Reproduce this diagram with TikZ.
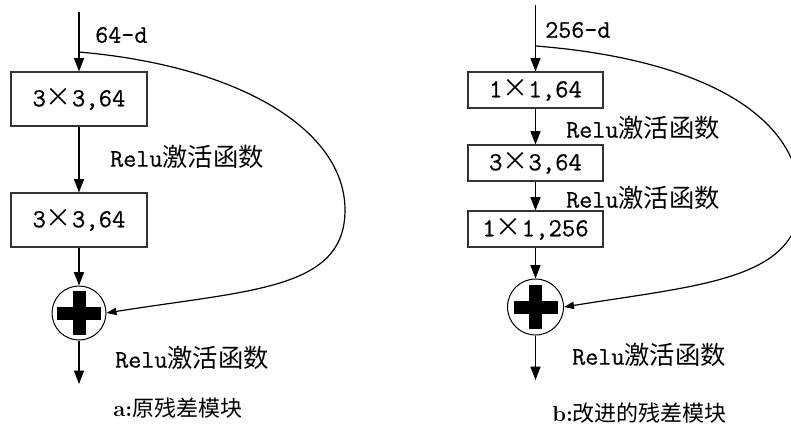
\documentclass[tikz,border=0pt]{standalone}
\usepackage{fontspec}
\newfontfamily\cjk{Noto Sans CJK SC}
\newfontfamily\lat{Latin Modern Mono}[FakeBold=0.6]
\usetikzlibrary{arrows.meta}
\newcommand{\relu}{{\lat Relu}{\cjk 激活函数}}
\newcommand{\kx}[2]{{\lat #1}{\cjk ×}{\lat #2}}
\begin{document}
\begin{tikzpicture}[x=0.75pt,y=-0.75pt,
  lbl/.style={anchor=west, inner sep=0pt, font=\fontsize{19}{19}\selectfont},
  captext/.style={anchor=west, inner sep=0pt, font=\fontsize{16.5}{17}\selectfont},
  blk/.style={draw=black!80, line width=0.8pt, inner sep=0pt,
    font=\fontsize{19.5}{19.5}\selectfont},
  bigblk/.style={blk, minimum width=102pt, minimum height=40.5pt},
  smallblk/.style={blk, minimum width=101.25pt, minimum height=27pt},
  sumc/.style={circle, draw, line width=0.75pt, inner sep=0pt},
  flow/.style={line width=1pt, -{Triangle[length=10pt,width=7.5pt]}},
  skip/.style={line width=0.9pt, -{Triangle[length=7.5pt,width=5.5pt]}}]
\useasboundingbox (0,0) rectangle (791,428);

% ---- a: plain residual block ----
\coordinate (ain) at (79,12);
\coordinate (asp) at (79,52);
\node[bigblk] (a1) at (79,99) {\kx{3}{3,64}};
\node[bigblk] (a2) at (79,220) {\kx{3}{3,64}};
\node[sumc, minimum size=40.5pt] (as) at (79,313) {};
\coordinate (aout) at (79,384);
\fill ([shift={(-22,-6.5)}]as.center) rectangle ([shift={(22,6.5)}]as.center);
\fill ([shift={(-6.5,-22)}]as.center) rectangle ([shift={(6.5,22)}]as.center);

\draw[flow] (ain) -- (a1);
\draw[flow] (a1) -- (a2);
\draw[flow] (a2) -- (as);
\draw[flow] (as) -- (aout);
\draw[skip] (asp) .. controls (240,66) and (345,130) .. (345,210)
  .. controls (345,290) and (250,290) .. (as.east);

\node[lbl] (ad) at (95,35) {\lat 64-d};
\node[lbl] (ar1) at (110,157) {\relu};
\node[lbl] (ar2) at (115,358) {\relu};
\node[captext] (acap) at (113,408) {\textbf{a:}{\cjk 原残差模块}};

% ---- b: bottleneck residual block ----
\coordinate (bin) at (535.5,5);
\coordinate (bsp) at (535.5,46);
\node[smallblk] (b1) at (535.5,90) {\kx{1}{1,64}};
\node[smallblk] (b2) at (535.5,163) {\kx{3}{3,64}};
\node[smallblk] (b3) at (535.5,229) {\kx{1}{1,256}};
\node[sumc, minimum size=42pt] (bs) at (535.5,307) {};
\coordinate (bout) at (535.5,380);
\fill ([shift={(-22,-6.5)}]bs.center) rectangle ([shift={(22,6.5)}]bs.center);
\fill ([shift={(-6.5,-22)}]bs.center) rectangle ([shift={(6.5,22)}]bs.center);

\draw[flow] (bin) -- (b1);
\draw[flow] (b1) -- (b2);
\draw[flow] (b2) -- (b3);
\draw[flow] (b3) -- (bs);
\draw[flow] (bs) -- (bout);
\draw[skip] (bsp) .. controls (690,58) and (800,110) .. (800,200)
  .. controls (800,280) and (700,285) .. (bs.east);

\node[lbl] (bd) at (545,30) {\lat 256-d};
\node[lbl] (br1) at (566,128) {\relu};
\node[lbl] (br2) at (566,198) {\relu};
\node[lbl] (br3) at (572,355) {\relu};
\node[captext] (bcap) at (552,413) {\textbf{b:}{\cjk 改进的残差模块}};
\end{tikzpicture}
\end{document}
